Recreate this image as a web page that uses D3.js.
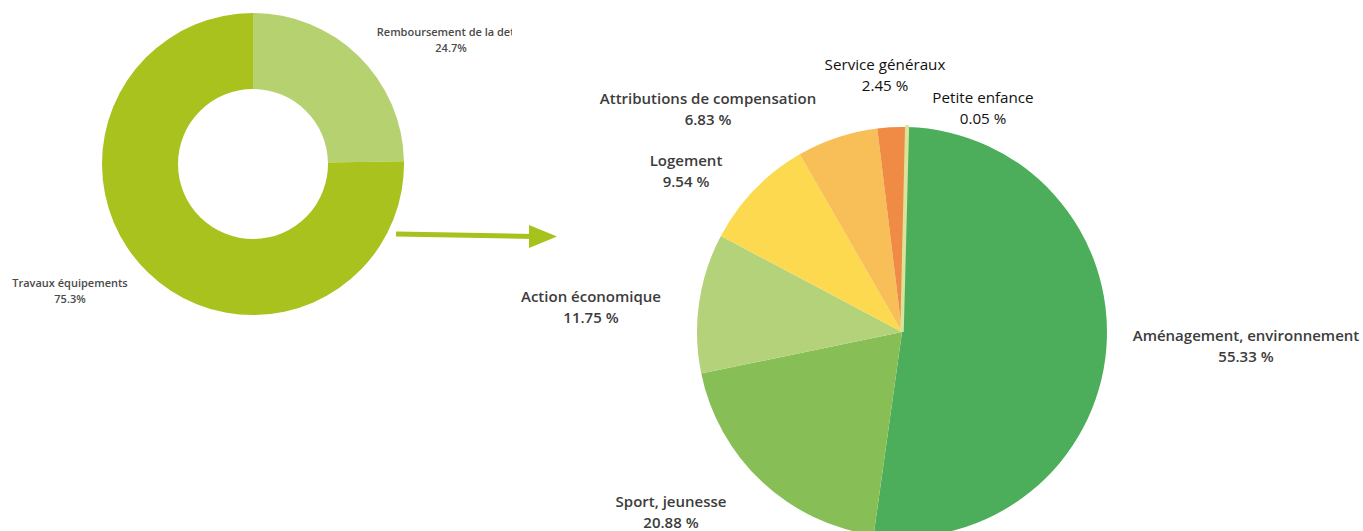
<!DOCTYPE html>
<html><head><meta charset="utf-8">
<script src="https://cdn.jsdelivr.net/npm/d3@7"></script>
<style>body{margin:0;background:#fff;} svg{display:block;}</style>
</head><body>
<script>
const donutCategories = ["Remboursement de la dette", "Travaux équipements"];
const donutValues = [24.7, 75.3];
const donutLabels = ["24.7%", "75.3%"];
const donutColors = ["#b6d16f", "#a9c21d"];

const pieCategories = ["Aménagement, environnement", "Sport, jeunesse", "Action économique", "Logement", "Attributions de compensation", "Service généraux", "Petite enfance"];
const pieValues = [55.33, 20.88, 11.75, 9.54, 6.83, 2.45, 0.05];
const pieColors = ["#4cae5a", "#87bf56", "#b3d27a", "#fdd94f", "#f8be58", "#f08b46", "#d9e49a"];

const W = 1363, H = 531;
const svg = d3.select("body").append("svg").attr("width", W).attr("height", H);

// ---- Donut
const dg = svg.append("g").attr("transform", "translate(253,164)");
const dpie = d3.pie().sort(null).value(d => d)(donutValues);
const darc = d3.arc().innerRadius(75).outerRadius(151);
dg.selectAll("path").data(dpie).enter().append("path")
  .attr("d", darc).attr("fill", (d, i) => donutColors[i]);

svg.append("clipPath").attr("id", "clipR").append("rect")
  .attr("x", 0).attr("y", 0).attr("width", 512).attr("height", H);
const dlab = [{x: 451, y: 36, c: 0}, {x: 70, y: 287, c: 1}];
dlab.forEach(p => {
  const t = svg.append("text").attr("clip-path", "url(#clipR)")
    .attr("text-anchor", "middle")
    .attr("font-family", "Open Sans").attr("font-weight", 600)
    .attr("font-size", 11).attr("fill", "#4a4a4a");
  t.append("tspan").attr("x", p.x).attr("y", p.y).text(donutCategories[p.c]);
  t.append("tspan").attr("x", p.x).attr("y", p.y + 16).text(donutLabels[p.c]);
});

// ---- Arrow
const ag = svg.append("g");
ag.append("line").attr("x1", 396).attr("y1", 234).attr("x2", 533).attr("y2", 236.5)
  .attr("stroke", "#a6c21c").attr("stroke-width", 5);
ag.append("path").attr("d", "M529,225 L557,236.5 L529,248 Z").attr("fill", "#a6c21c");

// ---- Pie
const cx = 902, cy = 332, R = 205;
const off = 1.5 * Math.PI / 180;
const ppie = d3.pie().sort(null).value(d => d)
  .startAngle(off).endAngle(off + 2 * Math.PI)(pieValues);
const parc = d3.arc().innerRadius(0).outerRadius(R);
const pg = svg.append("g").attr("transform", `translate(${cx},${cy})`);
pg.selectAll("path").data(ppie).enter().append("path")
  .attr("d", parc).attr("fill", (d, i) => pieColors[i])
  .attr("stroke", (d, i) => i === 6 ? pieColors[i] : "none")
  .attr("stroke-width", (d, i) => i === 6 ? 3.5 : 0);

const pieLabelPos = [
  {x: 1246, y: 341, bold: true},
  {x: 671, y: 507, bold: true},
  {x: 591, y: 302, bold: true},
  {x: 686, y: 166, bold: true},
  {x: 708, y: 104, bold: true},
  {x: 885, y: 70, bold: false},
  {x: 983, y: 103, bold: false}
];
pieLabelPos.forEach((p, i) => {
  const t = svg.append("text").attr("text-anchor", "middle")
    .attr("font-family", "Open Sans")
    .attr("font-weight", p.bold ? 600 : 400)
    .attr("font-size", p.bold ? 15 : 15.2)
    .attr("fill", p.bold ? "#3c3c3c" : "#111");
  t.append("tspan").attr("x", p.x).attr("y", p.y).text(pieCategories[i]);
  t.append("tspan").attr("x", p.x).attr("y", p.y + 21).text(pieValues[i] + " %");
});
</script>
</body></html>
